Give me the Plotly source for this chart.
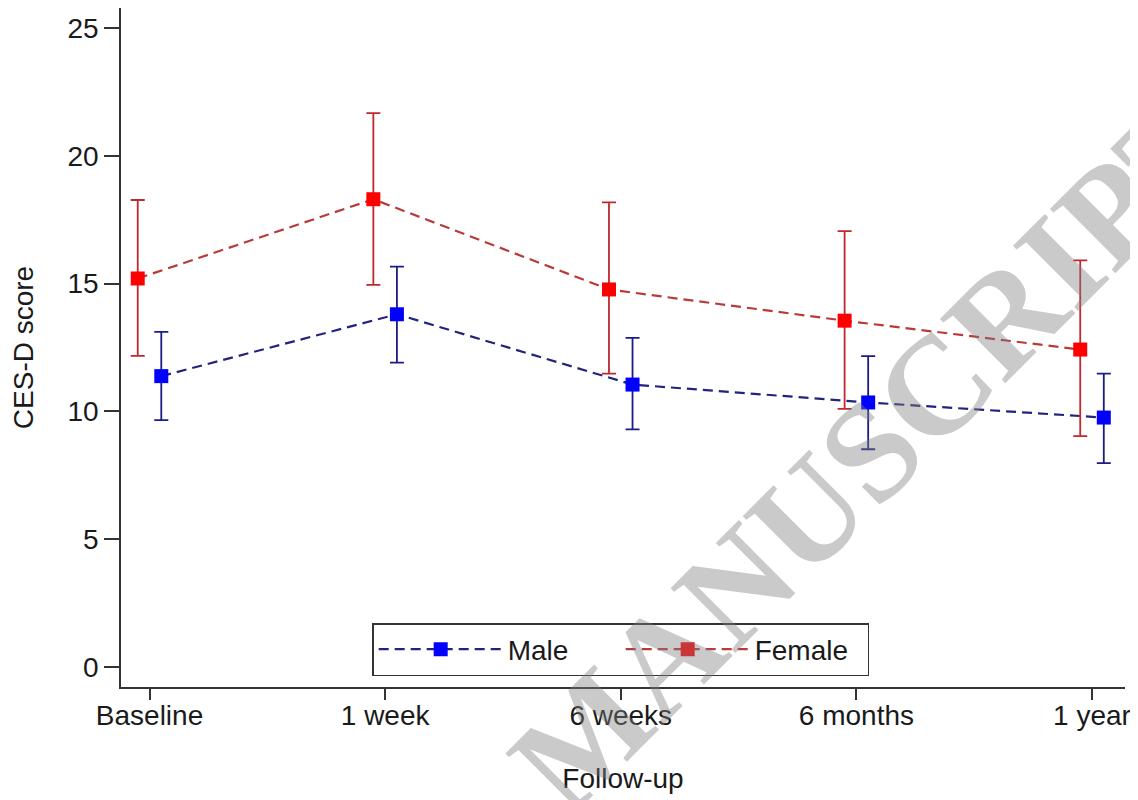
import plotly.graph_objects as go

categories = ["Baseline", "1 week", "6 weeks", "6 months", "1 year"]
y_ticks = [0, 5, 10, 15, 20, 25]

male_mean = [11.38, 13.80, 11.05, 10.35, 9.76]
male_lo = [9.66, 11.91, 9.30, 8.52, 7.98]
male_hi = [13.11, 15.66, 12.88, 12.16, 11.48]

female_mean = [15.20, 18.30, 14.77, 13.55, 12.42]
female_lo = [12.17, 14.95, 11.48, 10.10, 9.03]
female_hi = [18.27, 21.67, 18.18, 17.05, 15.91]

OFFSET = 0.05
FONT = "Liberation Sans, Arial, sans-serif"

idx = list(range(len(categories)))
x_male = [i + OFFSET for i in idx]
x_female = [i - OFFSET for i in idx]

fig = go.Figure()

fig.add_trace(go.Scatter(
    x=x_male, y=male_mean, name="Male", mode="lines+markers",
    line=dict(color="#23237e", width=2.2, dash="10px,6px"),
    marker=dict(symbol="square", size=14, color="#0000ff", line=dict(width=0)),
    error_y=dict(type="data", symmetric=False,
                 array=[h - m for h, m in zip(male_hi, male_mean)],
                 arrayminus=[m - l for m, l in zip(male_mean, male_lo)],
                 color="#1c1c86", thickness=1.8, width=7),
))
fig.add_trace(go.Scatter(
    x=x_female, y=female_mean, name="Female", mode="lines+markers",
    line=dict(color="#b83a3a", width=2.2, dash="10px,6px"),
    marker=dict(symbol="square", size=14, color="#ff0000", line=dict(width=0)),
    error_y=dict(type="data", symmetric=False,
                 array=[h - m for h, m in zip(female_hi, female_mean)],
                 arrayminus=[m - l for m, l in zip(female_mean, female_lo)],
                 color="#c0282d", thickness=1.8, width=7),
))

fig.add_annotation(
    text="<b>MANUSCRIPT</b>", xref="paper", yref="paper", x=0.747, y=0.348,
    xanchor="center", yanchor="middle", textangle=-45, showarrow=False,
    font=dict(family="Liberation Serif, Times New Roman, serif", size=140,
              color="rgba(128,128,128,0.42)"),
)

fig.update_layout(
    width=1130, height=792,
    margin=dict(l=113, r=13, t=0, b=113, autoexpand=False),
    paper_bgcolor="white", plot_bgcolor="white",
    font=dict(family=FONT, size=28, color="#1a1a1a"),
    showlegend=True,
    legend=dict(
        orientation="h", x=0.4977, y=0.0162, xanchor="center", yanchor="bottom",
        bordercolor="#333333", borderwidth=1.5, bgcolor="rgba(255,255,255,0)",
        font=dict(family=FONT, size=28, color="#1a1a1a"),
        itemwidth=124, entrywidth=108, entrywidthmode="pixels",
    ),
    xaxis=dict(
        range=[-0.121, 4.14], tickmode="array", tickvals=idx, ticktext=categories,
        automargin=False,
        showgrid=False, zeroline=False, showline=True, linecolor="#333333", linewidth=1.5,
        ticks="outside", ticklen=11, tickwidth=1.5, tickcolor="#333333",
        ticklabelstandoff=-8,
        title=dict(text="Follow-up", font=dict(family=FONT, size=28), standoff=38),
    ),
    yaxis=dict(
        range=[-0.78, 25.78], tickmode="array", tickvals=y_ticks,
        automargin=False,
        showgrid=False, zeroline=False, showline=True, linecolor="#333333", linewidth=1.5,
        ticks="outside", ticklen=15, tickwidth=1.5, tickcolor="#333333",
        title=dict(text="CES-D score", font=dict(family=FONT, size=28), standoff=26),
    ),
)

fig.write_html("out.html")
